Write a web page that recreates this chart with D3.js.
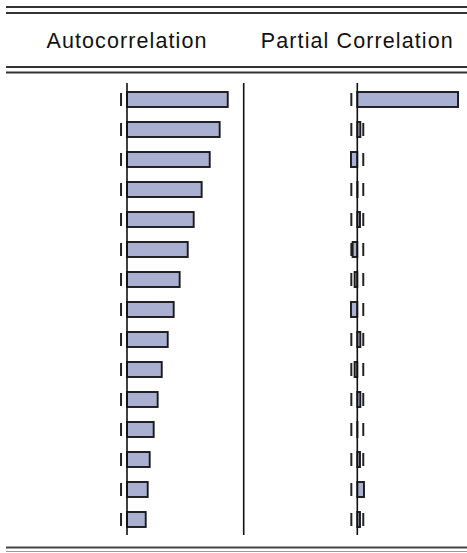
<!DOCTYPE html>
<html>
<head>
<meta charset="utf-8">
<script src="https://cdn.jsdelivr.net/npm/d3@7"></script>
<style>
  html, body { margin: 0; padding: 0; background: #fff; }
  svg { display: block; }
</style>
</head>
<body>
<svg id="chart" width="467" height="553"></svg>
<script>
// Correlogram: autocorrelation and partial autocorrelation by lag
const lags = [1, 2, 3, 4, 5, 6, 7, 8, 9, 10, 11, 12, 13, 14, 15];
const acf  = [0.861, 0.792, 0.707, 0.638, 0.570, 0.519, 0.450, 0.399, 0.348, 0.297, 0.262, 0.228, 0.194, 0.177, 0.160];
const pacf = [0.861, 0.026, -0.054, 0.002, 0.023, -0.040, -0.023, -0.054, 0.026, -0.023, 0.026, 0.001, 0.023, 0.057, 0.023];
const bound = 0.051;   // approx. 2/sqrt(T) confidence band
const headers = ["Autocorrelation", "Partial Correlation"];

const W = 467, H = 553;
const svg = d3.select("#chart");

const unit = 117;               // pixels per unit of correlation
const acZero = 127, pacZero = 357.3;
const acX  = d3.scaleLinear().domain([-1, 1]).range([acZero - unit, acZero + unit]);
const pacX = d3.scaleLinear().domain([-1, 1]).range([pacZero - unit, pacZero + unit]);
const y = d3.scaleLinear().domain([1, 15]).range([99.5, 519.5]);
const barH = 15;
const dashH = 13;
const plotTop = 83, plotBottom = 535;

const lineColor = "#333";
const barFill = "#aab0d2";

// horizontal rules
function rule(yPos, w, color) {
  svg.append("line")
    .attr("x1", 6).attr("x2", W)
    .attr("y1", yPos).attr("y2", yPos)
    .attr("stroke", color).attr("stroke-width", w);
}
rule(7, 2, lineColor);
rule(13, 2, lineColor);
rule(67, 2, lineColor);
rule(72.5, 2, lineColor);
rule(547.5, 2, "#444");
rule(551.5, 1, "#999");

// column headers, centred on each zero line
svg.selectAll("text.hdr")
  .data(headers)
  .join("text")
  .attr("class", "hdr")
  .attr("x", (d, i) => i === 0 ? acZero : pacZero)
  .attr("y", 47.5)
  .attr("text-anchor", "middle")
  .attr("font-family", "Liberation Sans, Arial, sans-serif")
  .attr("font-size", 21.5)
  .attr("letter-spacing", 1.1)
  .attr("fill", "#111")
  .text(d => d);

// panel separator
svg.append("line")
  .attr("x1", 243.7).attr("x2", 243.7)
  .attr("y1", plotTop).attr("y2", plotBottom)
  .attr("stroke", "#111").attr("stroke-width", 1.6);

function panel(xs, values, g) {
  // confidence band dashes
  const bands = [];
  lags.forEach(l => { bands.push({ l, v: -bound }); bands.push({ l, v: bound }); });
  g.selectAll("line.band")
    .data(bands)
    .join("line")
    .attr("class", "band")
    .attr("x1", d => xs(d.v)).attr("x2", d => xs(d.v))
    .attr("y1", d => y(d.l) - dashH / 2).attr("y2", d => y(d.l) + dashH / 2)
    .attr("stroke", "#222").attr("stroke-width", 2);

  // bars
  g.selectAll("rect.bar")
    .data(lags.map((l, i) => ({ l, v: values[i] })))
    .join("rect")
    .attr("class", "bar")
    .attr("x", d => Math.min(xs(0), xs(d.v)))
    .attr("width", d => Math.abs(xs(d.v) - xs(0)))
    .attr("y", d => y(d.l) - barH / 2)
    .attr("height", barH)
    .attr("fill", barFill)
    .attr("stroke", "#1a1a1a")
    .attr("stroke-width", 1.9);

  // zero axis
  g.append("line")
    .attr("x1", xs(0)).attr("x2", xs(0))
    .attr("y1", plotTop).attr("y2", plotBottom)
    .attr("stroke", "#111").attr("stroke-width", 1.6);
}

panel(acX, acf, svg.append("g"));
panel(pacX, pacf, svg.append("g"));
</script>
</body>
</html>
